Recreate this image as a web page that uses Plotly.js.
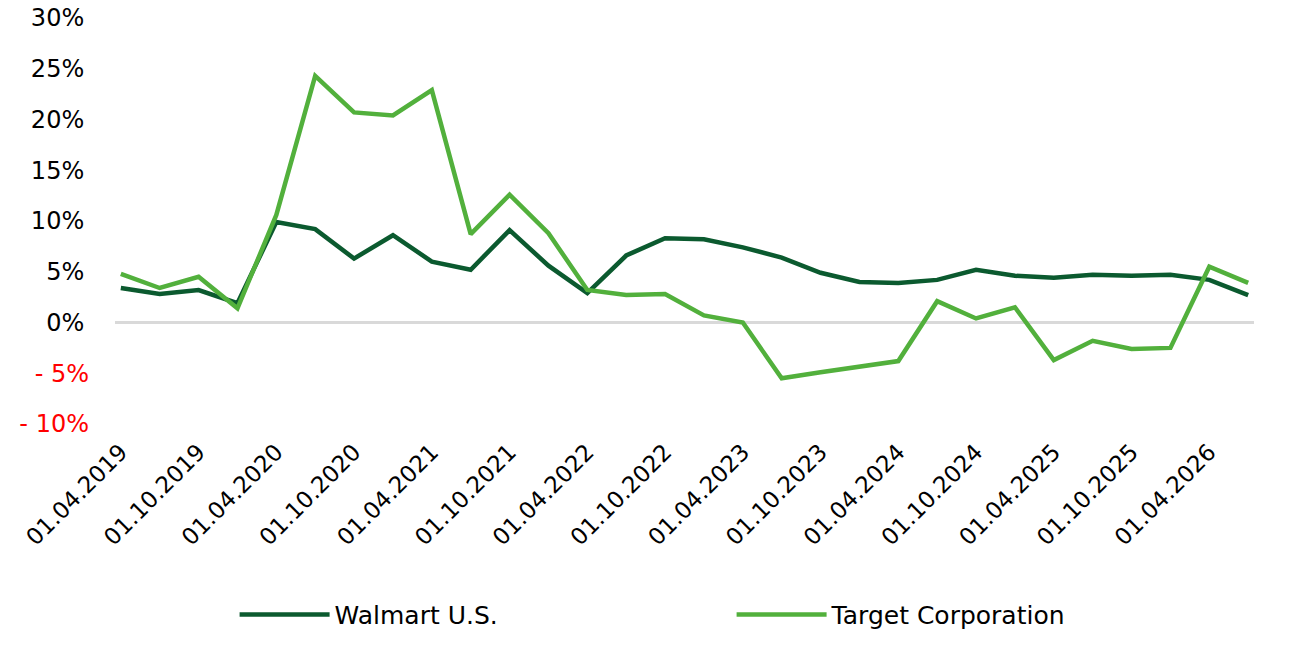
<!DOCTYPE html>
<html>
<head>
<meta charset="utf-8">
<script src="https://cdn.plot.ly/plotly-3.0.1.min.js"></script>
<style>
  html, body { margin: 0; padding: 0; background: #fff; }
  #chart { width: 1300px; height: 650px; }
</style>
</head>
<body>
<div id="chart"></div>
<script>
// quarterly dates, 2019 Q2 .. 2026 Q3
const quarters = [
  "01.04.2019", "01.07.2019", "01.10.2019", "01.01.2020",
  "01.04.2020", "01.07.2020", "01.10.2020", "01.01.2021",
  "01.04.2021", "01.07.2021", "01.10.2021", "01.01.2022",
  "01.04.2022", "01.07.2022", "01.10.2022", "01.01.2023",
  "01.04.2023", "01.07.2023", "01.10.2023", "01.01.2024",
  "01.04.2024", "01.07.2024", "01.10.2024", "01.01.2025",
  "01.04.2025", "01.07.2025", "01.10.2025", "01.01.2026",
  "01.04.2026", "01.07.2026"
];

// growth in percent
const walmart = [
  3.4, 2.8, 3.2, 1.9, 9.9, 9.2, 6.3, 8.6, 6.0, 5.2,
  9.1, 5.6, 2.9, 6.6, 8.3, 8.2, 7.4, 6.4, 4.9, 4.0,
  3.9, 4.2, 5.2, 4.6, 4.4, 4.7, 4.6, 4.7, 4.2, 2.7
];
const target = [
  4.8, 3.4, 4.5, 1.4, 10.6, 24.3, 20.7, 20.4, 22.9, 8.7,
  12.6, 8.8, 3.2, 2.7, 2.8, 0.7, 0.0, -5.5, -4.9, -4.4,
  -3.8, 2.1, 0.4, 1.5, -3.7, -1.8, -2.6, -2.5, 5.5, 3.9
];

const yTicks = [-10, -5, 0, 5, 10, 15, 20, 25, 30];
const yLabels = ["- 10%", "- 5%", "0%", "5%", "10%", "15%", "20%", "25%", "30%"];

// only every second quarter gets a label
const xTicks = quarters.filter((_, i) => i % 2 === 0);

// negatives in red, positives padded a bit so the % signs sit further left
const tickText = yLabels.map((t, i) =>
  yTicks[i] < 0 ? '<span style="color:#ff0000">' + t + '</span>' : t + "\u2009"
);

const traces = [
  {
    x: quarters,
    y: walmart,
    name: "Walmart U.S.",
    type: "scatter",
    mode: "lines",
    line: { color: "#0b5a2f", width: 4.5 },
  },
  {
    x: quarters,
    y: target,
    name: "Target Corporation",
    type: "scatter",
    mode: "lines",
    line: { color: "#52b03c", width: 4.5 },
  },
];

const layout = {
  width: 1300,
  height: 650,
  margin: { l: 115, r: 46, t: 18, b: 226 },
  paper_bgcolor: "#fff",
  plot_bgcolor: "#fff",
  font: { family: "'DejaVu Sans', sans-serif", size: 24, color: "#000" },
  showlegend: true,
  legend: {
    orientation: "h",
    x: 0.105,
    xanchor: "left",
    y: -0.47,
    yanchor: "middle",
    font: { family: "'DejaVu Sans', sans-serif", size: 25, color: "#000" },
    itemwidth: 90,
    entrywidth: 392,
    entrywidthmode: "pixels",
  },
  xaxis: {
    type: "category",
    range: [-0.15, quarters.length - 0.85],
    tickmode: "array",
    tickvals: xTicks,
    ticktext: xTicks,
    tickangle: -45,
    ticks: "",
    ticklabelstandoff: 9,
    showgrid: false,
    showline: false,
    zeroline: false,
    tickfont: { size: 23 },
  },
  yaxis: {
    range: [-10, 30],
    tickmode: "array",
    tickvals: yTicks,
    ticktext: tickText,
    ticks: "",
    ticklabelstandoff: 25,
    showgrid: false,
    showline: false,
    zeroline: true,
    zerolinecolor: "#d9d9d9",
    zerolinewidth: 3,
    tickfont: { size: 24 },
  },
};

Plotly.newPlot("chart", traces, layout, { displayModeBar: false, staticPlot: true });
</script>
</body>
</html>
